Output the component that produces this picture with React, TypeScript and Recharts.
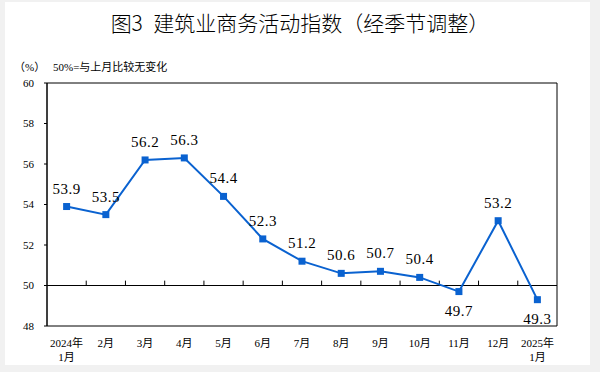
import React from "react";
import {
  LineChart,
  Line,
  XAxis,
  YAxis,
  ReferenceLine,
  ReferenceArea,
  LabelList,
} from "recharts";

const categories = ["2024年\n1月", "2月", "3月", "4月", "5月", "6月", "7月", "8月", "9月", "10月", "11月", "12月", "2025年\n1月"];
const values = [53.9, 53.5, 56.2, 56.3, 54.4, 52.3, 51.2, 50.6, 50.7, 50.4, 49.7, 53.2, 49.3];
const yTicks = [48, 50, 52, 54, 56, 58, 60];

const data = values.map((v, i) => ({ idx: i, v, name: categories[i] }));
const xTicks = categories.map((_, i) => i);
const boundaryTicks = categories.slice(1).map((_, i) => i + 0.5);

const BLUE = "#0a62d0";
const SERIF = "'Liberation Serif', 'Times New Roman', 'Noto Sans CJK SC', serif";

const XTick = (props: any) => {
  const { x, y, payload } = props;
  const lines = String(categories[payload.value] ?? "").split("\n");
  return (
    <text x={x} y={y} textAnchor="middle" fontFamily={SERIF} fontSize={11} fill="#000">
      {lines.map((l, i) => (
        <tspan key={i} x={x} y={y + 21 + i * 14}>
          {l}
        </tspan>
      ))}
    </text>
  );
};

const Dot = (props: any) => {
  const { cx, cy, index } = props;
  return <rect key={`d${index}`} x={cx - 3.5} y={cy - 3.5} width={7} height={7} fill={BLUE} />;
};

const Lbl = (props: any) => {
  const { x, y, value } = props;
  const below = value < 50;
  return (
    <text
      x={x}
      y={below ? y + 24 : y - 13}
      textAnchor="middle"
      fontFamily={SERIF}
      fontSize={15}
      fill="#000"
      letterSpacing={0.5}
    >
      {Number(value).toFixed(1)}
    </text>
  );
};

export default function App() {
  return (
    <div style={{ position: "absolute", left: 0, top: 0, width: 600, height: 372, background: "#f1f1f1" }}>
      <div style={{ position: "absolute", left: 5, top: 2, width: 585, height: 363, background: "#fff" }} />
      <div
        style={{
          position: "absolute",
          left: 0,
          top: 8,
          width: 600,
          textAlign: "center",
          fontFamily: "'Noto Sans CJK SC', sans-serif",
          fontSize: 21,
          fontWeight: 300,
          lineHeight: "28px",
          color: "#000",
          whiteSpace: "pre",
        }}
      >
        {"图3\u2002建筑业商务活动指数（经季节调整）"}
      </div>
      <div style={{ position: "absolute", left: 14, top: 60, fontFamily: SERIF, fontSize: 11, lineHeight: "14px", color: "#000" }}>
        （%）
      </div>
      <div style={{ position: "absolute", left: 53, top: 60, fontFamily: SERIF, fontSize: 11, lineHeight: "14px", color: "#000" }}>
        50%=与上月比较无变化
      </div>
      <div style={{ position: "absolute", left: 0, top: 0 }}>
        <LineChart width={600} height={372} data={data} margin={{ top: 83, right: 43, left: 0, bottom: 6 }}>
          <XAxis
            dataKey="idx"
            type="number"
            domain={[-0.5, 12.5]}
            ticks={xTicks}
            interval={0}
            axisLine={false}
            tickLine={false}
            tickSize={0}
            tickMargin={0}
            height={40}
            tick={<XTick />}
          />
          <YAxis
            type="number"
            domain={[48, 60]}
            ticks={yTicks}
            interval={0}
            width={47}
            axisLine={{ stroke: "#000", strokeWidth: 1 }}
            tickLine={{ stroke: "#000", strokeWidth: 1 }}
            tickSize={3}
            tickMargin={10}
            tick={{ fontFamily: SERIF, fontSize: 11, fill: "#000" }}
          />
          <ReferenceArea x1={-0.5} x2={12.5} y1={48} y2={60} fill="none" stroke="#000" strokeWidth={1} />
          <ReferenceLine y={50} stroke="#000" strokeWidth={1} />
          {boundaryTicks.map((b) => (
            <ReferenceLine
              key={b}
              segment={[
                { x: b, y: 50 },
                { x: b, y: 50.24 },
              ]}
              stroke="#000"
              strokeWidth={1}
            />
          ))}
          <Line
            dataKey="v"
            stroke={BLUE}
            strokeWidth={2}
            dot={Dot}
            activeDot={false}
            isAnimationActive={false}
          >
            <LabelList dataKey="v" content={<Lbl />} />
          </Line>
        </LineChart>
      </div>
    </div>
  );
}
